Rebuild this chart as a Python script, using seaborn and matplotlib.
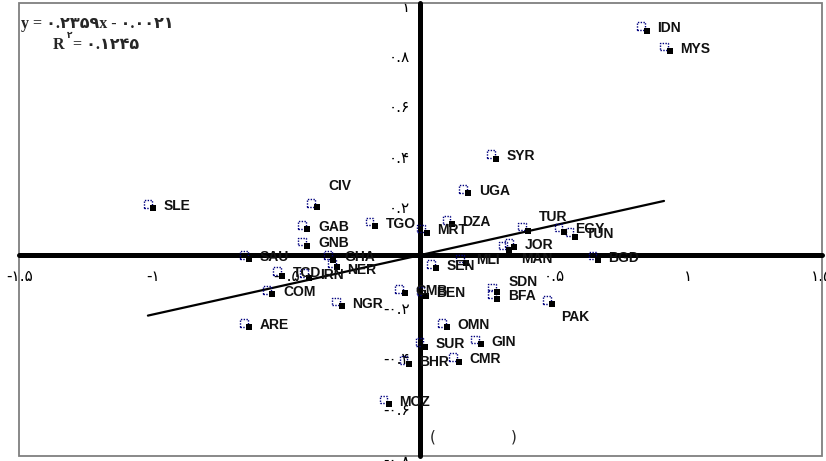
import matplotlib
matplotlib.use("Agg")
import matplotlib.pyplot as plt
import matplotlib.transforms as mtransforms
from matplotlib.patches import Rectangle
import numpy as np
import pandas as pd
import seaborn as sns

# Country scores on the two components
codes = ["SLE", "IDN", "MYS", "SYR", "UGA", "CIV", "GAB", "GNB", "SAU", "GHA",
         "NER", "TGO", "MRT", "DZA", "TCD", "IRN", "COM", "NGR", "ARE", "GMB",
         "BEN", "SEN", "MLI", "TUR", "EGY", "TUN", "JOR", "MAN", "BGD", "SDN",
         "BFA", "PAK", "OMN", "SUR", "GIN", "BHR", "CMR", "MOZ"]
x_vals = [-1.019, 0.826, 0.911, 0.264, 0.159, -0.408, -0.443, -0.443, -0.660, -0.346,
          -0.331, -0.190, 0.003, 0.097, -0.537, -0.436, -0.574, -0.315, -0.660, -0.080,
          0.000, 0.039, 0.149, 0.380, 0.517, 0.558, 0.331, 0.309, 0.643, 0.267,
          0.267, 0.473, 0.080, -0.003, 0.205, -0.063, 0.122, -0.138]
y_vals = [0.201, 0.907, 0.826, 0.399, 0.261, 0.205, 0.118, 0.052, -0.001, -0.002,
          -0.033, 0.131, 0.104, 0.138, -0.066, -0.074, -0.140, -0.187, -0.271, -0.136,
          -0.145, -0.037, -0.015, 0.112, 0.108, 0.089, 0.046, 0.036, -0.004, -0.131,
          -0.157, -0.180, -0.271, -0.348, -0.338, -0.418, -0.408, -0.576]

# Linear trend line
slope = 0.2359
intercept = -0.0021

x_ticks = [-1.5, -1.0, -0.5, 0.0, 0.5, 1.0, 1.5]
x_tick_labels = ["-۱.۵", "-۱", "-۰.۵", "", "۰.۵", "۱", "۱.۵"]
y_ticks = [-0.8, -0.6, -0.4, -0.2, 0.0, 0.2, 0.4, 0.6, 0.8, 1.0]
y_tick_labels = ["-۰.۸", "-۰.۶", "-۰.۴", "-۰.۲", "", "۰.۲", "۰.۴", "۰.۶", "۰.۸", "۱"]

equation_text = "y = ۰.۲۳۵۹x - ۰.۰۰۲۱"
r2_symbol = "R"
r2_power = "۲"
r2_value_text = "= ۰.۱۲۴۵"

df = pd.DataFrame({"code": codes, "x": x_vals, "y": y_vals})

sns.set_theme(style="white")
plt.rcParams["font.family"] = ["DejaVu Sans"]

fig = plt.figure(figsize=(8.26, 4.61), dpi=100)
ax = fig.add_axes([19.3 / 826, 5 / 461, (821.5 - 19.3) / 826, (458.3 - 5) / 461])
ax.set_xlim(-1.5, 1.5)
ax.set_ylim(-0.8, 1.0)

# Axes crossing at the origin
for side in ["top", "right"]:
    ax.spines[side].set_visible(False)
for side in ["left", "bottom"]:
    ax.spines[side].set_position(("data", 0))
    ax.spines[side].set_linewidth(3.6)
    ax.spines[side].set_color("black")
    ax.spines[side].set_capstyle("round")
    ax.spines[side].set_zorder(2)

ax.set_xticks(x_ticks)
ax.set_xticklabels(x_tick_labels)
ax.set_yticks(y_ticks)
ax.set_yticklabels(y_tick_labels)
ax.tick_params(axis="both", direction="out", length=3.5, width=3.8, color="black",
               labelsize=11, labelcolor="black")
ax.tick_params(axis="x", pad=7)
ax.tick_params(axis="y", pad=4)
ax.set_xlabel("")
ax.set_ylabel("")
shift_down = mtransforms.ScaledTranslation(0, -3 / 100, fig.dpi_scale_trans)
for lab in ax.get_yticklabels():
    lab.set_transform(lab.get_transform() + shift_down)

# Grey plot-area frame
ax.add_patch(Rectangle((0, 0), 1, 1, transform=ax.transAxes, fill=False,
                       edgecolor="#7f7f7f", linewidth=1.3, zorder=1, clip_on=False))

# Trend line over the range of the data
x_line = np.array([df["x"].min(), df["x"].max()])
line_df = pd.DataFrame({"x": x_line, "y": slope * x_line + intercept})
sns.lineplot(data=line_df, x="x", y="y", color="black", linewidth=1.6, ax=ax, zorder=3)

# Dotted blue markers at the points, with a black square shadow
sns.scatterplot(data=df, x="x", y="y", marker="s", s=30, ax=ax, zorder=4)
blue = ax.collections[-1]
blue.set_facecolor("none")
blue.set_edgecolor("#00007f")
blue.set_linewidth(1.0)
blue.set_linestyle((0, (1, 1)))

sns.scatterplot(data=df, x="x", y="y", marker="s", s=24, color="black",
                edgecolor="black", linewidth=0, ax=ax, zorder=5)
shadow = ax.collections[-1]
shadow.set_offset_transform(mtransforms.offset_copy(ax.transData, fig=fig,
                                                    x=5.5, y=-4.5, units="dots"))
ax.set_xlabel("")
ax.set_ylabel("")

label_shift = {"CIV": (17, 17), "NER": (15, -7), "TUR": (17, 9),
               "MAN": (18, -14), "SDN": (17, 6), "PAK": (14, -17)}
for code, xv, yv in zip(codes, x_vals, y_vals):
    dx, dy = label_shift.get(code, (16, -2))
    ax.annotate(code, (xv, yv), xytext=(dx, dy), textcoords="offset pixels",
                ha="left", va="center", fontsize=10, fontweight="bold",
                family=["Liberation Sans", "DejaVu Sans"], color="#111111",
                zorder=6, annotation_clip=False)

# Regression equation
eq_font = ["Liberation Serif", "DejaVu Sans"]
fig.text(21 / 826, 1 - 24 / 461, equation_text, ha="left", va="center",
         fontsize=11.5, fontweight="bold", family=eq_font)
fig.text(53 / 826, 1 - 45 / 461, r2_symbol, ha="left", va="center",
         fontsize=11.5, fontweight="bold", family=eq_font)
fig.text(66.5 / 826, 1 - 36 / 461, r2_power, ha="left", va="center",
         fontsize=6.5, fontweight="bold", family=eq_font)
fig.text(73 / 826, 1 - 45 / 461, r2_value_text, ha="left", va="center",
         fontsize=11.5, fontweight="bold", family=eq_font)

# Axis title brackets
fig.text(433 / 826, 1 - 437 / 461, "(", ha="center", va="center", fontsize=11)
fig.text(514 / 826, 1 - 437 / 461, ")", ha="center", va="center", fontsize=11)

fig.savefig("out.png", dpi=100)
